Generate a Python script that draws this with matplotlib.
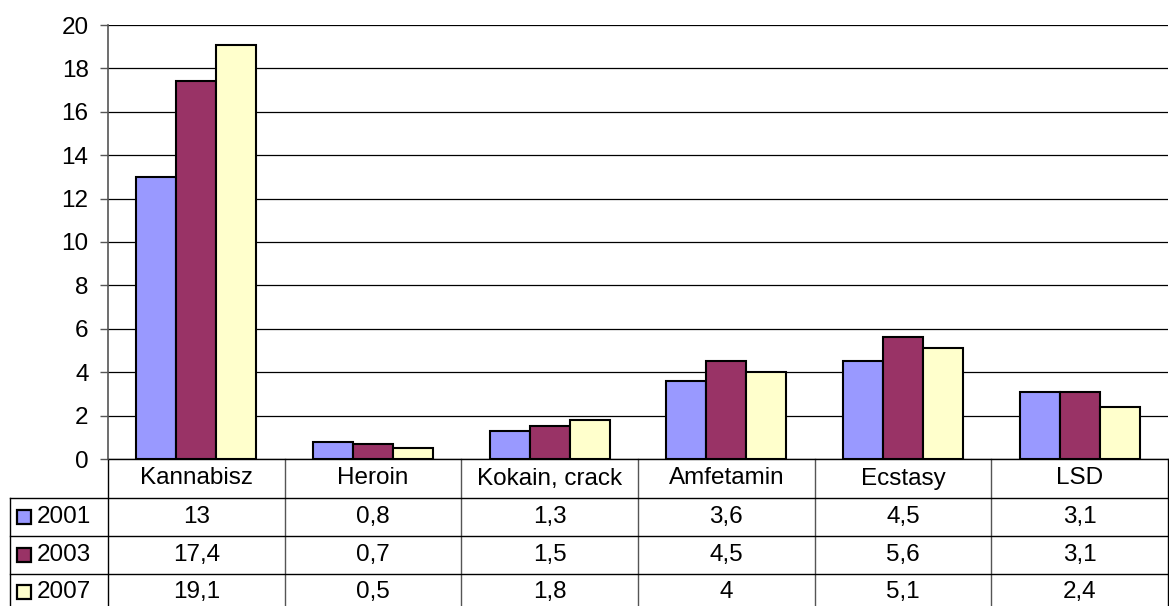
import numpy as np
import matplotlib.pyplot as plt
from matplotlib.patches import Rectangle
import matplotlib.transforms as mtransforms

plt.rcParams['font.family'] = ['Liberation Sans', 'DejaVu Sans']

# data
categories = ['Kannabisz', 'Heroin', 'Kokain, crack', 'Amfetamin', 'Ecstasy', 'LSD']
years = ['2001', '2003', '2007']
v2001 = [13, 0.8, 1.3, 3.6, 4.5, 3.1]
v2003 = [17.4, 0.7, 1.5, 4.5, 5.6, 3.1]
v2007 = [19.1, 0.5, 1.8, 4, 5.1, 2.4]
series = [v2001, v2003, v2007]
colors = ['#9999FF', '#993366', '#FFFFCC']

W, H = 1169, 606
fs = 17.5
fig = plt.figure(figsize=(W / 100, H / 100), dpi=100)
ax = fig.add_axes([108 / W, (H - 459) / H, (1168 - 108) / W, (459 - 25) / H])

x = np.arange(len(categories))
bw = 0.226
for i, (vals, c) in enumerate(zip(series, colors)):
    ax.bar(x + (i - 1) * bw, vals, bw, color=c, edgecolor='black', linewidth=1.5, zorder=3)

ax.set_xlim(-0.5, len(categories) - 0.5)
ax.set_ylim(0, 20)
ax.set_yticks(range(0, 21, 2))
ax.tick_params(axis='y', labelsize=fs, length=6, width=1, color='#555555', pad=8)
ax.set_xticks([])
ax.yaxis.grid(True, color='black', linewidth=0.9, zorder=0)
for s in ['top', 'right', 'bottom']:
    ax.spines[s].set_visible(False)
ax.spines['left'].set_color('#555555')
ax.spines['left'].set_linewidth(1.2)
ax.axhline(20, color='#888888', linewidth=1.2, zorder=1)

# data table below the axes
tr = mtransforms.blended_transform_factory(ax.transData, ax.transAxes)
ax_h = 459 - 25
row_px = [0, 39, 77, 115, 150]
ys = [-p / ax_h for p in row_px]
xl = -0.5 - 98 / (1060 / 6)
xr = len(categories) - 0.5
lk = dict(transform=tr, clip_on=False, color='black', linewidth=1)
ax.plot([-0.5, -0.5], [0, ys[4]], **lk)
for k in range(1, len(categories)):
    ax.plot([k - 0.5, k - 0.5], [0, ys[4]], color='#555555', linewidth=1, transform=tr, clip_on=False)
ax.plot([xr, xr], [0, ys[4]], **lk)
ax.plot([-0.5, xr], [0, 0], **lk)
ax.plot([xl, xl], [ys[1], ys[4]], **lk)
for r in (1, 2, 3):
    ax.plot([xl, xr], [ys[r], ys[r]], **lk)

for j, cat in enumerate(categories):
    ax.text(j, (ys[0] + ys[1]) / 2, cat, transform=tr, ha='center', va='center', fontsize=fs)

row_centers_px = [459 + 58, 459 + 96, 459 + 133]
for yr, vals, c, cy in zip(years, series, colors, row_centers_px):
    yc = -(cy - 459) / ax_h
    for j, v in enumerate(vals):
        ax.text(j, yc, f'{v:g}'.replace('.', ','), transform=tr, ha='center', va='center', fontsize=fs)
    # legend key
    ky = (H - cy) / H
    fig.patches.append(Rectangle((17 / W, ky - 7 / H), 14 / W, 14 / H, transform=fig.transFigure,
                                 facecolor=c, edgecolor='black', linewidth=1.6))
    fig.text(37 / W, ky, yr, ha='left', va='center', fontsize=fs)

fig.savefig('out.png', dpi=100)
